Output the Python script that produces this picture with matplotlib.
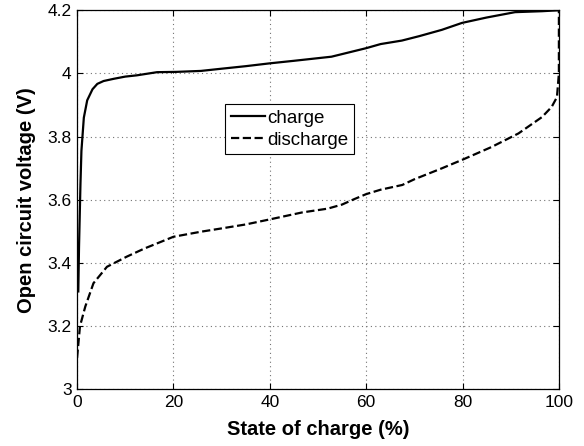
import numpy as np
import matplotlib.pyplot as plt

plt.rcParams['font.family'] = ['Liberation Sans', 'DejaVu Sans']

# charge curve (state of charge %, OCV)
soc_charge = [0.25, 0.4, 0.7, 0.9, 1.4, 2.1, 3.2, 4.2, 5.5, 7.6, 10, 12.4, 16.6, 20.7, 25.7,
              30, 35, 40, 45, 52.8, 56, 60, 63, 67.4, 71, 75.7, 79.9, 85, 90.9, 96.5, 100]
v_charge = [3.31, 3.45, 3.65, 3.755, 3.86, 3.915, 3.95, 3.967, 3.976, 3.983, 3.99, 3.994,
            4.004, 4.005, 4.008, 4.015, 4.023, 4.032, 4.04, 4.053, 4.065, 4.08, 4.093,
            4.104, 4.118, 4.138, 4.16, 4.177, 4.194, 4.197, 4.2]

# discharge curve
soc_discharge = [0.0, 0.6, 1.7, 3.4, 6.2, 10.3, 14, 20, 25.7, 29.8, 35, 40, 46.7, 52,
                 55, 57.5, 60, 63, 67.5, 70, 75.6, 80, 86, 91.6, 96.5, 98.5, 99.6, 100, 100]
v_discharge = [3.10, 3.20, 3.262, 3.336, 3.388, 3.42, 3.446, 3.483, 3.499, 3.509, 3.522,
               3.538, 3.56, 3.572, 3.585, 3.602, 3.618, 3.632, 3.647, 3.665, 3.699, 3.727,
               3.767, 3.81, 3.862, 3.894, 3.925, 4.0, 4.2]

fig = plt.figure(figsize=(5.84, 4.46), dpi=100)
ax = fig.add_axes([0.132, 0.127, 0.825, 0.850])

ax.plot(soc_charge, v_charge, 'k-', lw=1.6, label='charge')
ax.plot(soc_discharge, v_discharge, 'k--', lw=1.6, label='discharge')

ax.set_xlim(0, 100)
ax.set_ylim(3, 4.2)
ax.set_xticks([0, 20, 40, 60, 80, 100])
ax.set_yticks([3, 3.2, 3.4, 3.6, 3.8, 4, 4.2])
ax.set_yticklabels(['3', '3.2', '3.4', '3.6', '3.8', '4', '4.2'])
ax.tick_params(direction='in', labelsize=12.5, top=True, right=True, length=4)
ax.tick_params(axis='x', pad=4)
ax.tick_params(axis='y', pad=4)
ax.grid(True, color='0.45', linestyle=(0, (1, 3)), linewidth=0.8)
for s in ax.spines.values():
    s.set_linewidth(0.9)

ax.set_xlabel('State of charge (%)', fontsize=14.5, fontweight='bold', labelpad=7)
ax.set_ylabel('Open circuit voltage (V)', fontsize=14.5, fontweight='bold', labelpad=8)

leg = ax.legend(loc='upper left', bbox_to_anchor=(0.308, 0.752), fontsize=13.5,
                fancybox=False, framealpha=1, edgecolor='k', handlelength=1.8,
                handletextpad=0.15, borderpad=0.3, labelspacing=0.25, borderaxespad=0)
leg.get_frame().set_linewidth(0.8)

fig.savefig('out.png', dpi=100)
